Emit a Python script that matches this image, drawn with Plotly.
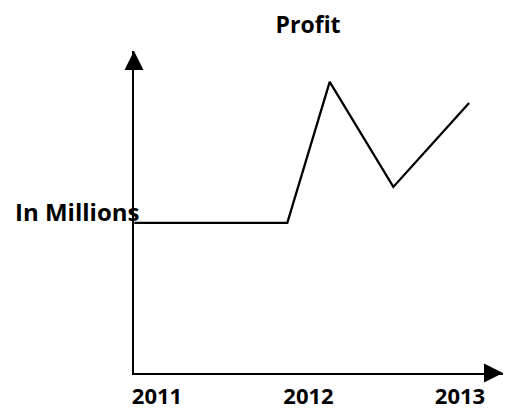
import plotly.graph_objects as go

# Data
x_vals = [2010.85, 2011.86, 2012.14, 2012.56, 2013.06]
y_vals = [5.0, 5.0, 9.7, 6.2, 9.0]
tick_vals = [2011, 2012, 2013]
tick_text = ["2011", "2012", "2013"]

X_MIN, X_MAX = 2010.848, 2013.284
Y_MIN, Y_MAX = 0, 10.73

FONT = "Open Sans"

fig = go.Figure()
fig.add_trace(go.Scatter(x=x_vals, y=y_vals, mode="lines",
                         line=dict(color="black", width=2.3),
                         hoverinfo="skip", showlegend=False))

fig.update_layout(
    width=510, height=419,
    margin=dict(l=134, r=7, t=51, b=46),
    paper_bgcolor="white", plot_bgcolor="white",
    title=dict(text="<b>Profit</b>", x=0.604, xanchor="center",
               y=1 - 25 / 419, yanchor="middle",
               font=dict(family=FONT, size=23, color="black")),
    xaxis=dict(range=[X_MIN, X_MAX], showgrid=False, zeroline=False,
               showline=True, linecolor="black", linewidth=2.3,
               tickvals=tick_vals, ticktext=[f"<b>{t}</b>" for t in tick_text],
               ticks="outside", ticklen=2, tickcolor="rgba(0,0,0,0)",
               tickfont=dict(family=FONT, size=22, color="black")),
    yaxis=dict(range=[Y_MIN, Y_MAX], showgrid=False, zeroline=False,
               showline=True, linecolor="black", linewidth=2.3,
               showticklabels=False, ticks=""),
)

# arrowheads on axes
fig.add_annotation(x=X_MAX, y=Y_MIN, ax=X_MAX - 0.1, ay=Y_MIN,
                   xref="x", yref="y", axref="x", ayref="y",
                   showarrow=True, arrowhead=2, arrowsize=1.65, arrowwidth=2.3,
                   arrowcolor="black", text="")
fig.add_annotation(x=X_MIN, y=Y_MAX, ax=X_MIN, ay=Y_MAX - 0.5,
                   xref="x", yref="y", axref="x", ayref="y",
                   showarrow=True, arrowhead=2, arrowsize=1.65, arrowwidth=2.3,
                   arrowcolor="black", text="")

# axis label
fig.add_annotation(text="<b>In Millions</b>", xref="paper", yref="paper",
                   x=(77 - 134) / 369, y=(373 - 211) / 322,
                   xanchor="center", yanchor="middle", showarrow=False,
                   font=dict(family=FONT, size=24, color="black"))

fig.write_html("out.html")
